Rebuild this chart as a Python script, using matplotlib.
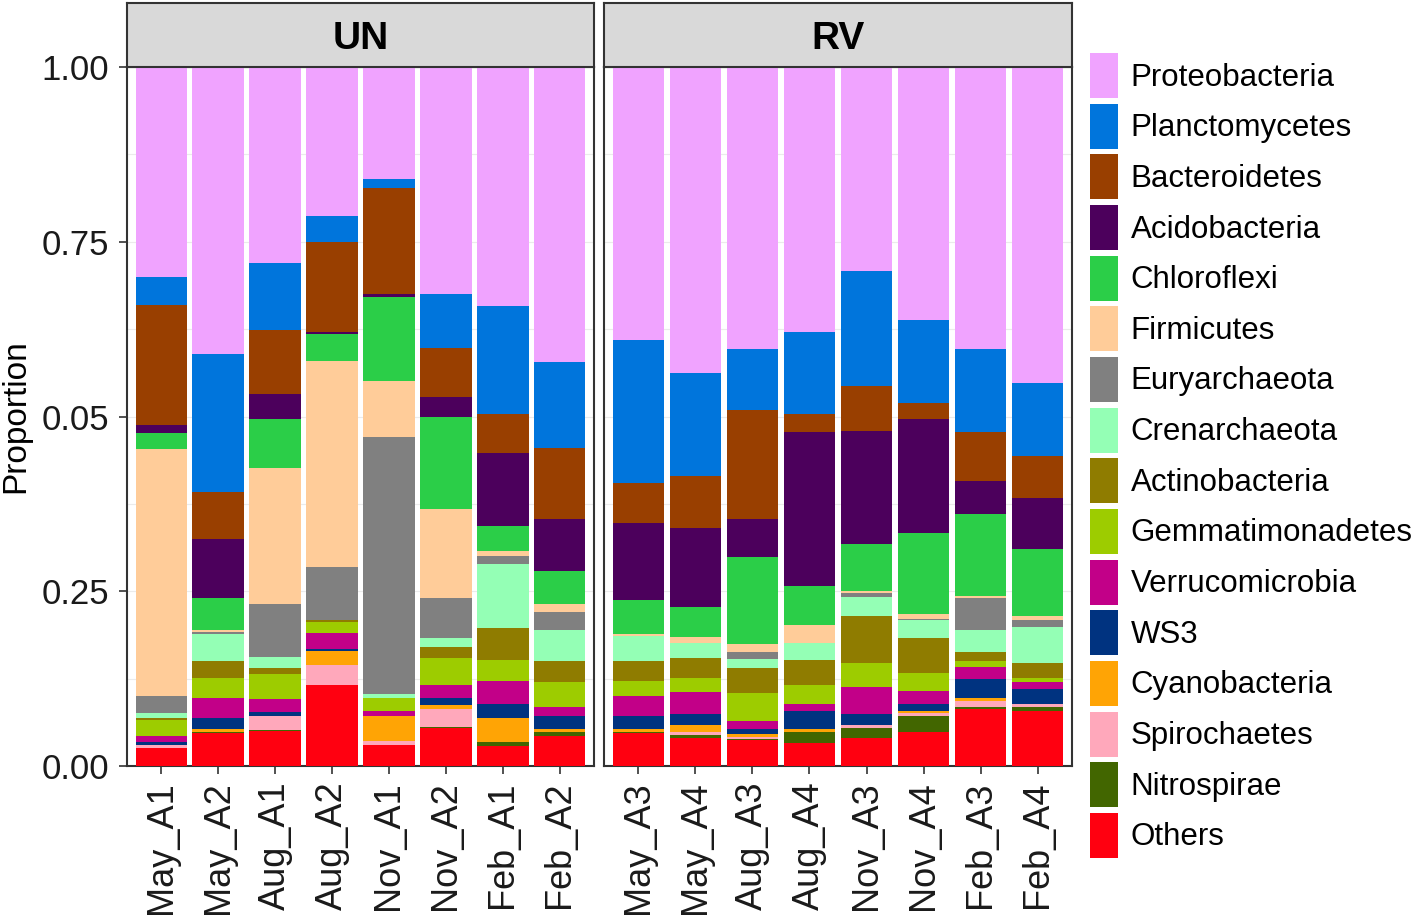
import matplotlib
matplotlib.use("Agg")
import matplotlib.pyplot as plt
import numpy as np
from matplotlib.patches import Patch

plt.rcParams['font.family'] = ['Liberation Sans', 'DejaVu Sans']

samples_un = ["May_A1", "May_A2", "Aug_A1", "Aug_A2", "Nov_A1", "Nov_A2", "Feb_A1", "Feb_A2"]
samples_rv = ["May_A3", "May_A4", "Aug_A3", "Aug_A4", "Nov_A3", "Nov_A4", "Feb_A3", "Feb_A4"]
groups = ["UN", "RV"]

# proportions per phylum (UN samples first, then RV samples)
proteobacteria   = [0.300, 0.411, 0.281, 0.213, 0.160, 0.325, 0.342, 0.422, 0.391, 0.438, 0.404, 0.379, 0.292, 0.362, 0.404, 0.452]
planctomycetes   = [0.040, 0.197, 0.095, 0.038, 0.013, 0.077, 0.155, 0.123, 0.204, 0.147, 0.087, 0.117, 0.165, 0.118, 0.118, 0.105]
bacteroidetes    = [0.172, 0.067, 0.092, 0.128, 0.152, 0.070, 0.055, 0.102, 0.058, 0.075, 0.156, 0.026, 0.064, 0.023, 0.070, 0.060]
acidobacteria    = [0.012, 0.085, 0.036, 0.003, 0.004, 0.028, 0.105, 0.074, 0.110, 0.112, 0.054, 0.220, 0.162, 0.164, 0.048, 0.073]
chloroflexi      = [0.023, 0.045, 0.070, 0.038, 0.120, 0.133, 0.035, 0.047, 0.048, 0.044, 0.124, 0.056, 0.066, 0.115, 0.117, 0.095]
firmicutes       = [0.353, 0.003, 0.194, 0.295, 0.080, 0.127, 0.007, 0.012, 0.003, 0.008, 0.012, 0.026, 0.003, 0.007, 0.003, 0.006]
euryarchaeota    = [0.024, 0.003, 0.076, 0.076, 0.368, 0.057, 0.012, 0.025, 0.000, 0.000, 0.010, 0.000, 0.006, 0.002, 0.045, 0.010]
crenarchaeota    = [0.007, 0.039, 0.016, 0.000, 0.006, 0.013, 0.092, 0.045, 0.036, 0.022, 0.013, 0.025, 0.028, 0.026, 0.032, 0.051]
actinobacteria   = [0.003, 0.024, 0.009, 0.003, 0.000, 0.016, 0.045, 0.030, 0.028, 0.028, 0.035, 0.035, 0.067, 0.050, 0.013, 0.022]
gemmatimonadetes = [0.023, 0.029, 0.035, 0.016, 0.019, 0.038, 0.031, 0.036, 0.022, 0.020, 0.040, 0.028, 0.034, 0.026, 0.009, 0.006]
verrucomicrobia  = [0.009, 0.028, 0.019, 0.022, 0.006, 0.019, 0.033, 0.012, 0.028, 0.031, 0.012, 0.009, 0.038, 0.019, 0.016, 0.010]
ws3              = [0.004, 0.016, 0.006, 0.004, 0.000, 0.010, 0.019, 0.019, 0.019, 0.017, 0.007, 0.026, 0.017, 0.009, 0.028, 0.022]
cyanobacteria    = [0.000, 0.004, 0.000, 0.019, 0.036, 0.006, 0.035, 0.004, 0.004, 0.010, 0.004, 0.004, 0.000, 0.003, 0.004, 0.000]
spirochaetes     = [0.004, 0.000, 0.019, 0.029, 0.006, 0.025, 0.000, 0.000, 0.000, 0.003, 0.003, 0.000, 0.003, 0.004, 0.009, 0.004]
nitrospirae      = [0.000, 0.002, 0.002, 0.000, 0.000, 0.002, 0.006, 0.006, 0.002, 0.005, 0.002, 0.016, 0.015, 0.023, 0.003, 0.005]
others           = [0.026, 0.047, 0.050, 0.116, 0.030, 0.054, 0.028, 0.043, 0.047, 0.040, 0.037, 0.033, 0.040, 0.049, 0.081, 0.079]

phyla = ["Proteobacteria", "Planctomycetes", "Bacteroidetes", "Acidobacteria", "Chloroflexi",
         "Firmicutes", "Euryarchaeota", "Crenarchaeota", "Actinobacteria", "Gemmatimonadetes",
         "Verrucomicrobia", "WS3", "Cyanobacteria", "Spirochaetes", "Nitrospirae", "Others"]
series = [proteobacteria, planctomycetes, bacteroidetes, acidobacteria, chloroflexi,
          firmicutes, euryarchaeota, crenarchaeota, actinobacteria, gemmatimonadetes,
          verrucomicrobia, ws3, cyanobacteria, spirochaetes, nitrospirae, others]
colors = ["#F0A3FF", "#0075DC", "#993F00", "#4C005C", "#2BCE48",
          "#FFCC99", "#808080", "#94FFB5", "#8F7C00", "#9DCC00",
          "#C20088", "#003380", "#FFA405", "#FFA8BB", "#426600", "#FF0010"]

yticks = [0.0, 0.25, 0.5, 0.75, 1.0]
yticklabels = ["0.00", "0.25", "0.05", "0.75", "1.00"]

W, H = 1418, 918
fig = plt.figure(figsize=(W / 100, H / 100), dpi=100)

panel_x = [(127, 594), (604, 1072)]
top, bottom = 67, 766
strip_top = 3
dark = "#333333"

for gi, (g, labels) in enumerate(zip(groups, [samples_un, samples_rv])):
    x0, x1 = panel_x[gi]
    ax = fig.add_axes([x0 / W, (H - bottom) / H, (x1 - x0) / W, (bottom - top) / H])
    xs = np.arange(1, len(labels) + 1)
    cum = np.zeros(len(labels))
    sl = slice(gi * 8, gi * 8 + 8)
    # stack from bottom (Others) upward
    for name, vals, col in zip(phyla[::-1], series[::-1], colors[::-1]):
        v = np.array(vals[sl])
        ax.bar(xs, v, bottom=cum, width=0.9, color=col, linewidth=0, zorder=3)
        cum += v
    ax.set_xlim(0.4, len(labels) + 0.6)
    ax.set_ylim(0, 1)
    ax.set_yticks(yticks)
    ax.set_yticks([0.125, 0.375, 0.625, 0.875], minor=True)
    ax.grid(True, axis='y', which='both', color='#EBEBEB', linewidth=0.8, zorder=0)
    ax.set_xticks(xs)
    ax.set_xticklabels(labels, rotation=90, fontsize=26, color='#1a1a1a')
    ax.tick_params(axis='x', length=6, width=1.2, color=dark, pad=5)
    ax.tick_params(axis='y', which='minor', length=0)
    if gi == 0:
        ax.set_yticklabels(yticklabels, fontsize=25, color='#1a1a1a')
        ax.tick_params(axis='y', which='major', length=6, width=1.2, color=dark, pad=7)
        ax.set_ylabel("Proportion", fontsize=24)
        ax.yaxis.set_label_coords(-0.205, 0.5)
    else:
        ax.tick_params(axis='y', which='major', length=0, labelleft=False)
    for sp in ax.spines.values():
        sp.set_color(dark)
        sp.set_linewidth(1.5)
    # facet strip
    sax = fig.add_axes([x0 / W, (H - top) / H, (x1 - x0) / W, (top - strip_top) / H])
    sax.set_facecolor("#D9D9D9")
    sax.set_xticks([])
    sax.set_yticks([])
    for sp in sax.spines.values():
        sp.set_color(dark)
        sp.set_linewidth(1.5)
    sax.text(0.5, 0.44, g, ha='center', va='center', fontsize=28, fontweight='bold',
             transform=sax.transAxes)

handles = [Patch(facecolor=c, edgecolor='none') for c in colors]
fig.legend(handles, phyla, loc='upper left', bbox_to_anchor=(1090 / W, (H - 53) / H),
           frameon=False, fontsize=22.5, handlelength=0.9, handleheight=1.84,
           labelspacing=0.18, handletextpad=0.4, borderpad=0, borderaxespad=0)

fig.savefig("out.png", dpi=100)
